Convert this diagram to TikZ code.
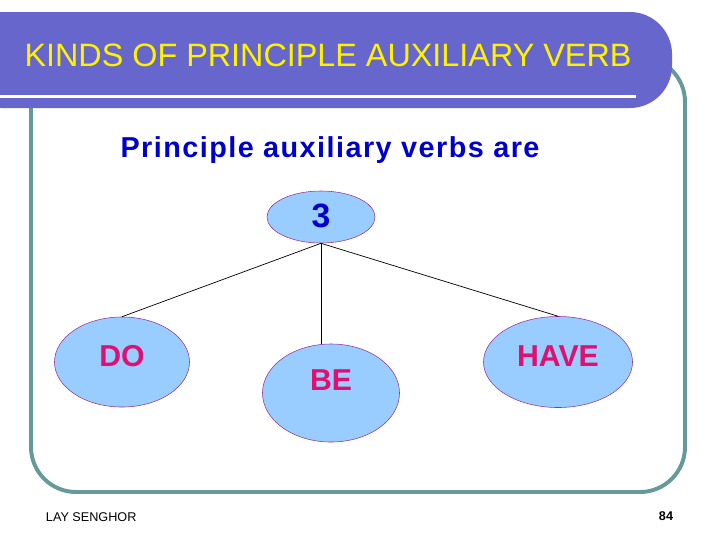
\documentclass[tikz,border=0pt]{standalone}
\usepackage{fontspec}
\setmainfont{Liberation Sans}
\usetikzlibrary{shapes,positioning}

\definecolor{headblue}{RGB}{102,102,204}
\definecolor{framegreen}{RGB}{102,153,153}
\definecolor{bubblefill}{RGB}{153,204,255}
\definecolor{bubbleline}{RGB}{153,51,153}
\definecolor{wordred}{RGB}{224,16,112}
\definecolor{numblue}{RGB}{0,0,204}

\tikzset{
  bubble/.style={ellipse,draw=bubbleline,fill=bubblefill,inner sep=0pt},
  word/.style={text=wordred,font=\bfseries\fontsize{21.5}{26}\selectfont},
  branch/.style={black,line width=0.5pt}
}

\begin{document}
\begin{tikzpicture}[x=0.025cm,y=-0.025cm]
\useasboundingbox (0,0) rectangle (720,540);
% frame and header
\draw[framegreen,line width=2.8pt,rounded corners=32pt] (31,57) rectangle (685,492);
\fill[headblue,rounded corners=30pt] (-40,12) rectangle (672,108);
\fill[white] (-5,95) rectangle (636,98);
\node[text=yellow,font=\fontsize{23}{27}\selectfont] (title) at (328,55) {KINDS OF PRINCIPLE AUXILIARY VERB};
\node[text=numblue,font=\bfseries\fontsize{20.5}{24}\selectfont\addfontfeature{LetterSpace=5}] (intro) at (330,150) {Principle auxiliary verbs are};

% the tree
\node[bubble,minimum width=2.7cm,minimum height=1.3cm] (three) at (321,217) {};
\node[text=numblue,font=\bfseries\fontsize{24}{28}\selectfont] (threeText) at (321,216) {3};
\node[bubble,minimum width=3.375cm,minimum height=2.25cm] (do) at (122,362) {};
\node[bubble,minimum width=3.425cm,minimum height=2.45cm] (be) at (331,393) {};
\node[bubble,minimum width=3.725cm,minimum height=2.275cm] (have) at (558,362) {};
\node[word] (doText) at (122,356) {DO};
\node[word] (beText) at (331,380) {BE};
\node[word] (haveText) at (558,356) {HAVE};
\draw[branch] (three.south) -- (do.north);
\draw[branch] (three.south) -- (three.south |- be.north);
\draw[branch] (three.south) -- (have.north);

% footer
\node[anchor=west,font=\fontsize{9}{10}\selectfont] (author) at (41,517) {LAY SENGHOR};
\node[anchor=east,font=\bfseries\fontsize{9}{10}\selectfont] (page) at (678,516) {84};
\end{tikzpicture}
\end{document}
